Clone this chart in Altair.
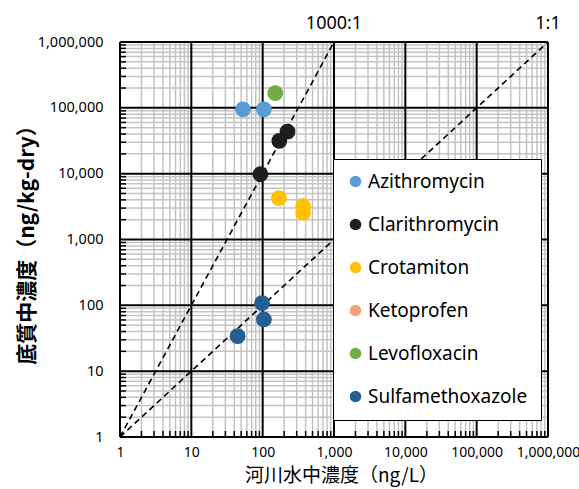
import altair as alt
import pandas as pd

# Compounds shown in the legend, with their marker colours
compounds = ["Azithromycin", "Clarithromycin", "Crotamiton",
             "Ketoprofen", "Levofloxacin", "Sulfamethoxazole"]
compound_colors = ["#5B9BD5", "#1E1E1E", "#FFC000",
                   "#F4A27A", "#70AD47", "#255E91"]

# Measured concentrations: river water (ng/L) vs. sediment (ng/kg-dry)
point_compound = ["Azithromycin", "Azithromycin",
                  "Clarithromycin", "Clarithromycin", "Clarithromycin",
                  "Crotamiton", "Crotamiton", "Crotamiton",
                  "Levofloxacin",
                  "Sulfamethoxazole", "Sulfamethoxazole", "Sulfamethoxazole"]
river_ng_L = [53, 104,
              223, 171, 93,
              169, 369, 369,
              150,
              98, 104, 44.5]
sediment_ng_kg = [95000, 95000,
                  43600, 31500, 9800,
                  4250, 3200, 2550,
                  167000,
                  108, 61, 34]

# Reference lines (start and end points) and their labels
ref_line = ["1:1", "1:1", "1000:1", "1000:1"]
ref_x = [1, 1000000, 1, 1000]
ref_y = [1, 1000000, 1, 1000000]
ref_label = ["1000:1", "1:1"]
ref_label_x = [1000, 1000000]
ref_label_y = [1000000, 1000000]

# Log axis decades and minor grid values
major_ticks = [1, 10, 100, 1000, 10000, 100000, 1000000]
minor_ticks = [k * 10 ** d for d in range(6) for k in range(2, 10)]

W, H = 428, 395
LABEL_FONT = "Noto Sans"
TITLE_FONT = "Noto Sans CJK JP"

points = pd.DataFrame({"compound": point_compound,
                       "river": river_ng_L, "sediment": sediment_ng_kg})
lines = pd.DataFrame({"line": ref_line, "x": ref_x, "y": ref_y})
labels = pd.DataFrame({"text": ref_label, "x": ref_label_x, "y": ref_label_y})
minor = pd.DataFrame({"v": minor_ticks})
major = pd.DataFrame({"v": major_ticks})

xs = alt.Scale(type="log", domain=[1, 1000000], nice=False)
ys = alt.Scale(type="log", domain=[1, 1000000], nice=False)

x_axis = alt.Axis(values=major_ticks, format=",", grid=False, ticks=False,
                  tickSize=0, domain=False, labelFont=LABEL_FONT,
                  labelFontSize=14, labelColor="black", labelPadding=8,
                  labelFlush=False, labelOverlap=False,
                  title="河川水中濃度（ng/L）", titleFont=TITLE_FONT,
                  titleFontSize=19, titleFontWeight="normal",
                  titleColor="black", titleX=221, titleY=38,
                  titleAlign="center", titleBaseline="middle")
y_axis = alt.Axis(values=major_ticks, format=",", grid=False, ticks=False,
                  tickSize=0, domain=False, labelFont=LABEL_FONT,
                  labelFontSize=14.5, labelColor="black", labelPadding=17,
                  labelFlush=False, labelOverlap=False,
                  title="底質中濃度（ng/kg-dry）", titleFont=TITLE_FONT,
                  titleFontSize=21, titleFontWeight="bold",
                  titleColor="black", titleX=-93, titleY=H / 2,
                  titleAngle=270, titleAlign="center",
                  titleBaseline="middle")


def gx(field="v"):
    return alt.X(f"{field}:Q", scale=xs, axis=x_axis)


def gy(field="v"):
    return alt.Y(f"{field}:Q", scale=ys, axis=y_axis)


minor_vx = alt.Chart(minor).mark_rule(color="#C3C3C3", strokeWidth=1.5).encode(x=gx())
minor_hy = alt.Chart(minor).mark_rule(color="#C3C3C3", strokeWidth=1.5).encode(y=gy())

# short inward tick marks along the left and bottom frame
tick_bottom = alt.Chart(minor).mark_rule(color="black", strokeWidth=1.5).encode(
    x=gx(), y=alt.value(H), y2=alt.value(H - 6))
tick_left = alt.Chart(minor).mark_rule(color="black", strokeWidth=1.5).encode(
    y=gy(), x=alt.value(0), x2=alt.value(6))

major_vx = alt.Chart(major).mark_rule(color="black", strokeWidth=2).encode(x=gx())
major_hy = alt.Chart(major).mark_rule(color="black", strokeWidth=2).encode(y=gy())

ref = alt.Chart(lines).mark_line(color="black", strokeWidth=1.6, strokeDash=[6, 4]).encode(
    x=gx("x"), y=gy("y"), detail="line:N")

ref_text = alt.Chart(labels).mark_text(
    font=LABEL_FONT, fontSize=18, color="black", dy=-18, baseline="middle"
).encode(x=gx("x"), y=gy("y"), text="text:N")

scatter = alt.Chart(points).mark_circle(size=250, opacity=1).encode(
    x=gx("river"),
    y=gy("sediment"),
    color=alt.Color("compound:N",
                    scale=alt.Scale(domain=compounds, range=compound_colors),
                    legend=alt.Legend(title=None, orient="none", legendX=213,
                                      legendY=117, padding=13, rowPadding=23,
                                      labelFont=LABEL_FONT, labelFontSize=19,
                                      labelColor="black", labelOffset=3,
                                      symbolType="circle", symbolSize=133,
                                      symbolStrokeWidth=0, symbolOpacity=1,
                                      strokeColor="black", fillColor="white",
                                      labelLimit=300)),
)

chart = alt.layer(
    minor_vx, minor_hy, tick_bottom, tick_left, major_vx, major_hy,
    ref, scatter, ref_text
).properties(
    width=W, height=H,
    autosize=alt.AutoSizeParams(type="none"),
    padding={"left": 120, "top": 42, "right": 31, "bottom": 52},
    background="white",
).configure_view(stroke=None)

chart.save("out.html", embed_options={"renderer": "svg", "actions": False})
